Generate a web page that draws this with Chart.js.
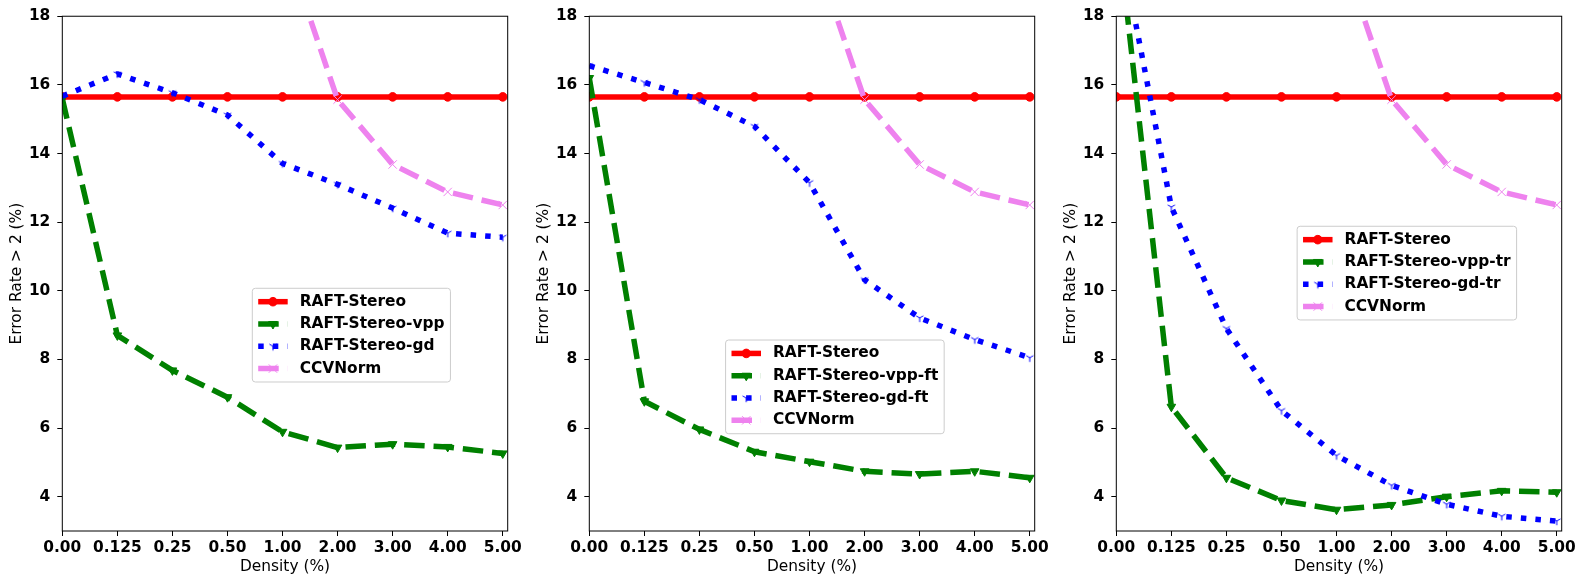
<!DOCTYPE html>
<html>
<head>
<meta charset="utf-8">
<script src="https://cdn.jsdelivr.net/npm/chart.js@4.4.1/dist/chart.umd.min.js"></script>
<style>
    html, body { margin: 0; padding: 0; background: #fff; }
    #figure { position: relative; width: 1586px; height: 586px; overflow: hidden; }
    #figure canvas { position: absolute; top: 0; }
</style>
</head>
<body>
<div id="figure">
    <canvas id="panel1" width="527" height="586" style="left:0"></canvas>
    <canvas id="panel2" width="527" height="586" style="left:527px"></canvas>
    <canvas id="panel3" width="527" height="586" style="left:1054px"></canvas>
</div>
<script>
// x categories (density %) and y ticks
const densityLabels = ['0.00', '0.125', '0.25', '0.50', '1.00', '2.00', '3.00', '4.00', '5.00'];
const yTickValues = [4, 6, 8, 10, 12, 14, 16, 18];

// series shared by all panels
const raftStereo = [15.65, 15.65, 15.65, 15.65, 15.65, 15.65, 15.65, 15.65, 15.65];
const ccvNorm = [null, null, null, null, 20.3, 15.57, 13.68, 12.88, 12.5];

// panel 1
const raftVpp = [15.6, 8.7, 7.68, 6.9, 5.89, 5.43, 5.53, 5.45, 5.26];
const raftGd = [15.67, 16.32, 15.77, 15.12, 13.71, 13.1, 12.41, 11.68, 11.56];

// panel 2
const raftVppFt = [16.2, 6.78, 5.96, 5.31, 5.02, 4.74, 4.66, 4.74, 4.55];
const raftGdFt = [16.56, 16.07, 15.57, 14.79, 13.15, 10.32, 9.21, 8.58, 8.05];

// panel 3
const raftVppTr = [20.9, 6.62, 4.55, 3.89, 3.62, 3.76, 4.0, 4.17, 4.13];
const raftGdTr = [20.7, 12.44, 8.9, 6.51, 5.2, 4.33, 3.78, 3.43, 3.29];

Chart.defaults.font.family = '"DejaVu Sans", sans-serif';
Chart.defaults.color = '#000';

const FONT_SIZE = 15.4;
const TITLE_SIZE = 15.4;
const LINE_W = 5.5;

// matplotlib-like "tri_down" marker
const triDown = (() => {
    const c = document.createElement('canvas');
    c.width = 12;
    c.height = 12;
    const g = c.getContext('2d');
    g.strokeStyle = '#0000ff';
    g.lineWidth = 1;
    g.beginPath();
    g.moveTo(6, 6); g.lineTo(6, 10.2);
    g.moveTo(6, 6); g.lineTo(2.4, 3.9);
    g.moveTo(6, 6); g.lineTo(9.6, 3.9);
    g.stroke();
    return c;
})();

const styles = {
    raft: { color: '#ff0000', dash: [], pointStyle: 'circle', radius: 4.3, rotation: 0, order: 4 },
    vpp: { color: '#008000', dash: [20.5, 8.9], pointStyle: 'triangle', radius: 5, rotation: 180, order: 3 },
    gd: { color: '#0000ff', dash: [5.5, 9.1], pointStyle: triDown, radius: 4, rotation: 0, order: 2 },
    ccv: { color: '#ee82ee', dash: [20.5, 8.9], pointStyle: 'crossRot', radius: 5.9, rotation: 0, order: 1 },
};

const makeSet = (label, values, style) => ({
    label,
    data: values.map((y, i) => ({ x: i, y })),
    borderColor: style.color,
    backgroundColor: style.color,
    borderWidth: LINE_W,
    borderDash: style.dash,
    borderJoinStyle: 'round',
    borderCapStyle: 'butt',
    pointStyle: style.pointStyle,
    pointRadius: style.radius,
    pointRotation: style.rotation,
    pointBorderWidth: 1,
    pointBackgroundColor: style.color,
    pointBorderColor: style.color,
    order: style.order,
    clip: 0,
    fill: false,
    tension: 0,
    spanGaps: false,
});

// axes frame on all four sides
const axesFrame = {
    id: 'axesFrame',
    afterDatasetsDraw(chart) {
        const { ctx, chartArea: a } = chart;
        ctx.save();
        ctx.strokeStyle = '#000';
        ctx.lineWidth = 1;
        ctx.strokeRect(a.left, a.top, a.right - a.left, a.bottom - a.top);
        ctx.restore();
    },
};

// legend box placed inside the axes, like matplotlib
const boxLegend = {
    id: 'boxLegend',
    afterDraw(chart, args, opts) {
        const { ctx, chartArea: a } = chart;
        const pad = 5.9;
        const handleLen = 29.5;
        const handlePad = 12;
        const rowGap = 7.3;
        const rowH = 15;
        const sets = chart.data.datasets;

        ctx.save();
        ctx.font = `bold ${FONT_SIZE}px "DejaVu Sans"`;
        const textW = Math.max(...sets.map((d) => ctx.measureText(d.label).width));
        const w = pad * 2 + handleLen + handlePad + textW;
        const h = pad * 2 + sets.length * rowH + (sets.length - 1) * rowGap;
        const x0 = a.left + opts.x * (a.right - a.left);
        const y0 = a.top + opts.y * (a.bottom - a.top);

        ctx.beginPath();
        ctx.roundRect(x0, y0, w, h, 3);
        ctx.fillStyle = 'rgba(255,255,255,0.8)';
        ctx.fill();
        ctx.strokeStyle = '#cccccc';
        ctx.lineWidth = 1;
        ctx.stroke();

        sets.forEach((d, i) => {
            const cy = y0 + pad + rowH / 2 + i * (rowH + rowGap);
            const hx = x0 + pad;

            ctx.beginPath();
            ctx.setLineDash(d.borderDash);
            ctx.strokeStyle = d.borderColor;
            ctx.lineWidth = d.borderWidth;
            ctx.lineCap = 'butt';
            ctx.moveTo(hx, cy);
            ctx.lineTo(hx + handleLen, cy);
            ctx.stroke();
            ctx.setLineDash([]);

            ctx.fillStyle = d.pointBackgroundColor;
            ctx.strokeStyle = d.pointBorderColor;
            ctx.lineWidth = d.pointBorderWidth;
            Chart.helpers.drawPoint(ctx, {
                pointStyle: d.pointStyle,
                rotation: d.pointRotation,
                radius: d.pointRadius,
                borderWidth: d.pointBorderWidth,
            }, hx + handleLen / 2, cy);

            ctx.fillStyle = '#000';
            ctx.textBaseline = 'middle';
            ctx.textAlign = 'left';
            ctx.fillText(d.label, hx + handleLen + handlePad, cy);
        });
        ctx.restore();
    },
};

const tickGrid = {
    display: true,
    drawOnChartArea: false,
    drawTicks: true,
    tickLength: 5,
    tickColor: '#000',
    tickWidth: 1,
};

const initPanel = (id, datasets, legendPos) => {
    const element = document.getElementById(id);

    if (!element || typeof Chart === 'undefined') {
        return;
    }

    new Chart(element, {
        type: 'line',
        data: { datasets },
        plugins: [axesFrame, boxLegend],
        options: {
            responsive: false,
            animation: false,
            events: [],
            layout: { padding: { top: 15, right: 19.3, bottom: 0, left: 0 } },
            plugins: {
                legend: { display: false },
                tooltip: { enabled: false },
                boxLegend: legendPos,
            },
            scales: {
                x: {
                    type: 'linear',
                    min: 0,
                    max: 8.09,
                    grid: tickGrid,
                    border: { display: false },
                    afterBuildTicks: (scale) => {
                        scale.ticks = densityLabels.map((_, i) => ({ value: i }));
                    },
                    afterFit: (scale) => { scale.height = 55; },
                    ticks: {
                        autoSkip: false,
                        maxRotation: 0,
                        padding: 2.5,
                        font: { size: FONT_SIZE, weight: 'bold' },
                        callback: (value) => densityLabels[Math.round(value)],
                    },
                    title: {
                        display: true,
                        text: 'Density (%)',
                        font: { size: TITLE_SIZE },
                        padding: { top: 0, bottom: 10 },
                    },
                },
                y: {
                    min: 3,
                    max: 18,
                    grid: tickGrid,
                    border: { display: false },
                    afterBuildTicks: (scale) => {
                        scale.ticks = yTickValues.map((v) => ({ value: v }));
                    },
                    afterFit: (scale) => { scale.width = 62.3; },
                    ticks: {
                        padding: 7,
                        font: { size: FONT_SIZE, weight: 'bold' },
                        callback: (value) => String(value),
                    },
                    title: {
                        display: true,
                        text: 'Error Rate > 2 (%)',
                        font: { size: TITLE_SIZE },
                        padding: { top: 7.8, bottom: 0 },
                    },
                },
            },
        },
    });
};

initPanel('panel1', [
    makeSet('RAFT-Stereo', raftStereo, styles.raft),
    makeSet('RAFT-Stereo-vpp', raftVpp, styles.vpp),
    makeSet('RAFT-Stereo-gd', raftGd, styles.gd),
    makeSet('CCVNorm', ccvNorm, styles.ccv),
], { x: 0.4266, y: 0.5285 });

initPanel('panel2', [
    makeSet('RAFT-Stereo', raftStereo, styles.raft),
    makeSet('RAFT-Stereo-vpp-ft', raftVppFt, styles.vpp),
    makeSet('RAFT-Stereo-gd-ft', raftGdFt, styles.gd),
    makeSet('CCVNorm', ccvNorm, styles.ccv),
], { x: 0.306, y: 0.629 });

initPanel('panel3', [
    makeSet('RAFT-Stereo', raftStereo, styles.raft),
    makeSet('RAFT-Stereo-vpp-tr', raftVppTr, styles.vpp),
    makeSet('RAFT-Stereo-gd-tr', raftGdTr, styles.gd),
    makeSet('CCVNorm', ccvNorm, styles.ccv),
], { x: 0.406, y: 0.408 });
</script>
</body>
</html>
